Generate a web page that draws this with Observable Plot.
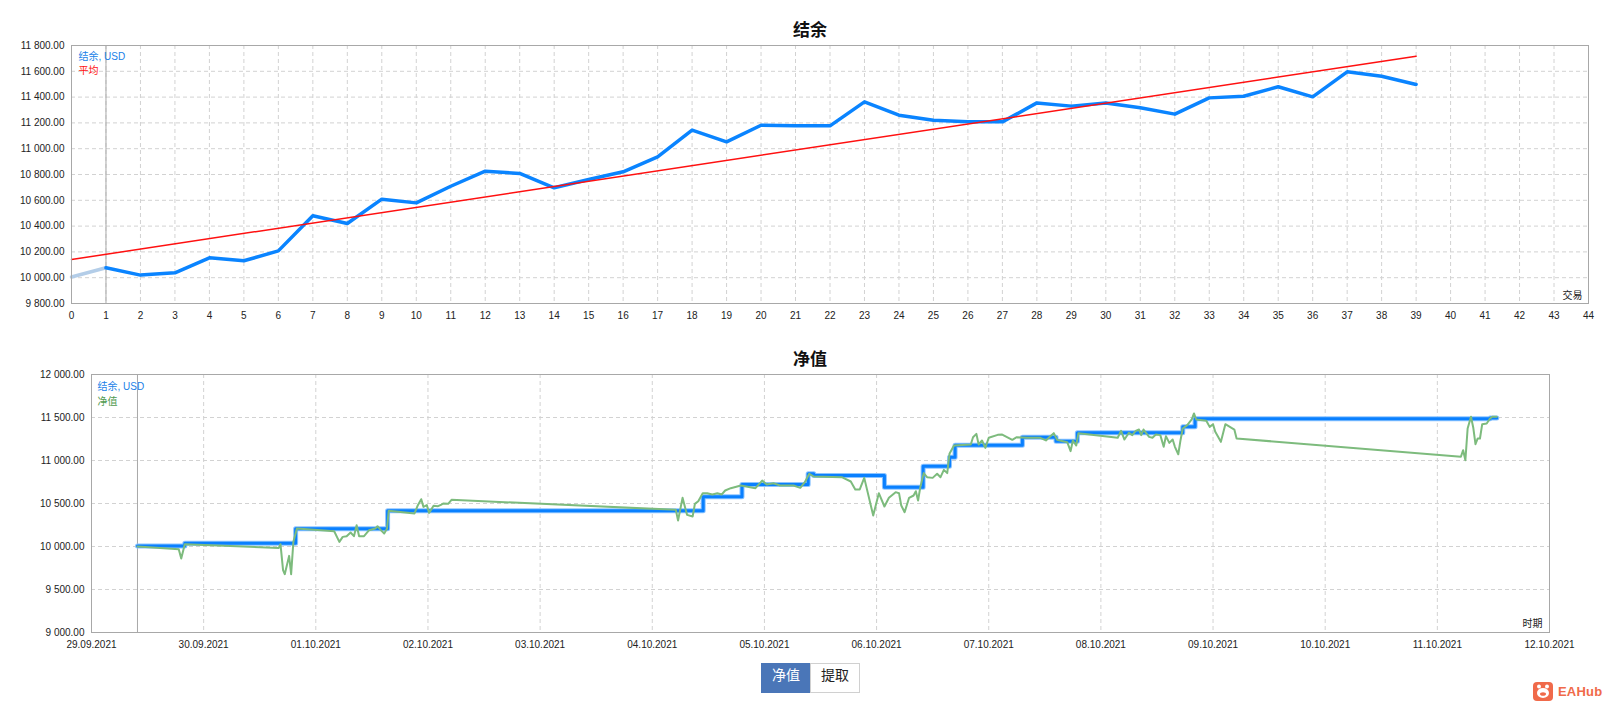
<!DOCTYPE html>
<html>
<head>
<meta charset="utf-8">
<script src="https://cdn.jsdelivr.net/npm/d3@7"></script>
<script src="https://cdn.jsdelivr.net/npm/@observablehq/plot@0.6"></script>
<style>
  body { margin: 0; background: #fff; }
  #wrap { position: relative; width: 1604px; height: 706px; overflow: hidden; background: #fff; }
  .title { position: absolute; width: 200px; text-align: center; font: bold 17px "Noto Sans CJK SC", sans-serif; color: #111; line-height: 20px; }
  #top { position: absolute; left: 0; top: 0; }
  #bot { position: absolute; left: 0; top: 330px; }
  .btn { position: absolute; top: 663px; height: 30px; line-height: 28px; text-align: center; font: 14px "Noto Sans CJK SC", sans-serif; box-sizing: border-box; }
  #logo { position: absolute; left: 1533px; top: 681px; height: 20px; display: flex; align-items: center; }
  #logo span { font: bold 13px "Liberation Sans Narrow", "Liberation Sans", sans-serif; color: #f06a4a; margin-left: 5px; letter-spacing: 0.2px; }
</style>
</head>
<body>
<div id="wrap">
  <div class="title" style="left:710px;top:19px">结余</div>
  <div id="top"></div>
  <div class="title" style="left:710px;top:348px">净值</div>
  <div id="bot"></div>
  <div class="btn" style="left:761px;width:50px;background:#4a76b8;color:#fff;border:1px solid #4a76b8;">净值</div>
  <div class="btn" style="left:810px;width:50px;background:#fff;color:#222;border:1px solid #d0d0d0;">提取</div>
  <div id="logo">
    <svg width="20" height="19" viewBox="0 0 20 19">
      <rect x="0" y="0" width="20" height="19" rx="4" fill="#f06a4a"/>
      <circle cx="6" cy="4.5" r="2" fill="#fff"/>
      <circle cx="14" cy="4.5" r="2" fill="#fff"/>
      <ellipse cx="10" cy="11" rx="6" ry="5" fill="#fff"/>
      <ellipse cx="10" cy="12" rx="3" ry="1.8" fill="#f06a4a"/>
    </svg>
    <span>EAHub</span>
  </div>
</div>
<script>
// ---------- Top chart: balance per trade ----------
const tradeNo = [0,1,2,3,4,5,6,7,8,9,10,11,12,13,14,15,16,17,18,19,20,21,22,23,24,25,26,27,28,29,30,31,32,33,34,35,36,37,38,39];
const balanceByTrade = [10005,10077,10020,10038,10154,10131,10208,10480,10420,10609,10580,10709,10826,10808,10697,10761,10821,10937,11144,11053,11182,11177,11177,11363,11260,11221,11208,11208,11355,11330,11355,11317,11268,11394,11407,11480,11402,11596,11562,11498];
const trendTrade = [0, 39];
const trendValue = [10141, 11717];
const tradeTicks = [0,1,2,3,4,5,6,7,8,9,10,11,12,13,14,15,16,17,18,19,20,21,22,23,24,25,26,27,28,29,30,31,32,33,34,35,36,37,38,39,40,41,42,43,44];
const balanceTicks = [9800,10000,10200,10400,10600,10800,11000,11200,11400,11600,11800];
const topLegend = ["结余, USD", "平均"];
const topAxisName = ["交易"];

// ---------- Bottom chart: balance & equity over time ----------
// times are days since 29.09.2021 00:00
const baseDate = "2021-09-29";
const balanceDay = [0.41,0.832,1.82,2.64,5.454,5.80,6.39,6.44,7.07,7.415,7.65,7.70,8.30,8.60,8.79,9.73,9.84,12.47,12.53];
const balanceVal = [10005,10037,10207,10417,10578,10721,10845,10826,10690,10934,11039,11178,11271,11225,11322,11391,11485,11495,11495];
const equityDay = [0.41,0.778,0.800,0.832,1.67,1.685,1.708,1.723,1.762,1.78,1.80,1.82,1.832,2.164,2.21,2.24,2.275,2.31,2.34,2.364,2.386,2.43,2.475,2.53,2.55,2.58,2.61,2.635,2.65,2.88,2.91,2.94,2.96,2.99,3.01,3.05,3.09,3.12,3.135,3.18,3.21,5.21,5.23,5.27,5.31,5.36,5.38,5.41,5.45,5.49,5.535,5.58,5.62,5.65,5.70,5.79,5.92,5.98,6.02,6.08,6.14,6.26,6.32,6.36,6.40,6.44,6.69,6.77,6.81,6.85,6.89,6.97,7.02,7.07,7.11,7.17,7.20,7.22,7.25,7.29,7.33,7.35,7.37,7.39,7.42,7.45,7.50,7.54,7.57,7.60,7.63,7.65,7.69,7.84,7.86,7.89,7.91,7.94,7.97,8.00,8.08,8.12,8.21,8.25,8.34,8.46,8.51,8.54,8.58,8.61,8.70,8.73,8.75,8.78,8.80,9.15,9.18,9.21,9.25,9.28,9.31,9.34,9.36,9.38,9.43,9.46,9.49,9.53,9.56,9.58,9.61,9.64,9.66,9.69,9.71,9.73,9.77,9.81,9.83,9.85,9.94,9.97,10.00,10.02,10.07,10.11,10.19,10.21,12.21,12.23,12.25,12.27,12.30,12.32,12.34,12.36,12.38,12.40,12.44,12.47,12.49,12.53];
const equityVal = [10000,9969,9860,10027,9984,10027,9725,9678,9891,9678,10054,10151,10209,10178,10054,10112,10120,10163,10120,10248,10120,10120,10190,10209,10236,10190,10151,10209,10415,10384,10481,10550,10461,10481,10391,10473,10469,10488,10500,10496,10543,10426,10302,10566,10368,10349,10496,10527,10620,10620,10605,10620,10605,10651,10678,10709,10678,10767,10721,10736,10709,10709,10682,10748,10845,10814,10806,10756,10663,10663,10798,10360,10620,10465,10566,10632,10620,10477,10399,10566,10593,10643,10535,10690,10853,10806,10798,10845,10806,10891,10853,11078,11174,11186,11271,11310,11186,11233,11147,11264,11298,11302,11240,11271,11264,11264,11233,11271,11318,11240,11213,11109,11233,11174,11318,11264,11345,11244,11322,11295,11345,11360,11295,11360,11275,11264,11302,11295,11159,11283,11205,11244,11159,11073,11236,11372,11411,11477,11547,11477,11461,11391,11422,11333,11217,11422,11360,11256,11043,11120,11004,11372,11508,11384,11190,11256,11256,11422,11430,11488,11508,11508];
const dateLabels = ["29.09.2021","30.09.2021","01.10.2021","02.10.2021","03.10.2021","04.10.2021","05.10.2021","06.10.2021","07.10.2021","08.10.2021","09.10.2021","10.10.2021","11.10.2021","12.10.2021"];
const equityTicks = [9000,9500,10000,10500,11000,11500,12000];
const botLegend = ["结余, USD", "净值"];
const botAxisName = ["时期"];

// ---------- helpers ----------
const fmt = d => d3.format(",.2f")(d).replace(/,/g, " ");
const parseLabel = d3.utcParse("%d.%m.%Y");
const base = d3.utcParse("%Y-%m-%d")(baseDate).getTime();
const toDate = d => new Date(base + d * 864e5);
const fontFamily = '"Liberation Sans", "Noto Sans CJK SC", sans-serif';
const gridStyle = {stroke: "#d2d2d2", strokeDasharray: "4,3", strokeWidth: 1};

const trades = tradeNo.map((t, i) => ({t, v: balanceByTrade[i]}));
const trend = trendTrade.map((t, i) => ({t, v: trendValue[i]}));

const topPlot = Plot.plot({
  width: 1604, height: 330,
  marginTop: 45, marginBottom: 27, marginLeft: 71, marginRight: 16,
  style: {fontFamily, fontSize: "10px", color: "#222", background: "transparent", overflow: "visible"},
  x: {domain: [0, 44], ticks: tradeTicks, tickSize: 0, tickPadding: 8, label: null, tickFormat: d => String(d)},
  y: {domain: [9800, 11800], ticks: balanceTicks, tickSize: 0, tickPadding: 7, tickFormat: fmt, label: null},
  marks: [
    Plot.ruleY(balanceTicks.slice(1, -1), gridStyle),
    Plot.ruleX(tradeTicks.slice(1, -1), gridStyle),
    Plot.ruleX([tradeNo[1]], {stroke: "#a8a8a8", strokeWidth: 1}),
    Plot.line(trades.slice(0, 2), {x: "t", y: "v", stroke: "#b3cde8", strokeWidth: 3.5}),
    Plot.line(trades.slice(1), {x: "t", y: "v", stroke: "#0a84ff", strokeWidth: 3.5, strokeLinejoin: "round"}),
    Plot.line(trend, {x: "t", y: "v", stroke: "#ff1010", strokeWidth: 1.5}),
    Plot.text([topLegend[0]], {frameAnchor: "top-left", text: d => d, dx: 7, dy: 11, lineAnchor: "middle", fill: "#1a7fe8", fontSize: 10}),
    Plot.text([topLegend[1]], {frameAnchor: "top-left", text: d => d, dx: 7, dy: 25, lineAnchor: "middle", fill: "#ff1010", fontSize: 10}),
    Plot.text(topAxisName, {frameAnchor: "bottom-right", text: d => d, dx: -6, dy: -8, lineAnchor: "middle", fill: "#222", fontSize: 10}),
    Plot.frame({stroke: "#a8a8a8"})
  ]
});
document.getElementById("top").appendChild(topPlot);

const balanceSeries = balanceDay.map((d, i) => ({t: toDate(d), v: balanceVal[i]}));
const equitySeries = equityDay.map((d, i) => ({t: toDate(d), v: equityVal[i]}));
const dateTicks = dateLabels.map(parseLabel);

const botPlot = Plot.plot({
  width: 1604, height: 330,
  marginTop: 44, marginBottom: 28, marginLeft: 91, marginRight: 55,
  style: {fontFamily, fontSize: "10px", color: "#222", background: "transparent", overflow: "visible"},
  x: {type: "utc", domain: [dateTicks[0], dateTicks[dateTicks.length - 1]], ticks: dateTicks, tickFormat: d3.utcFormat("%d.%m.%Y"), tickSize: 0, tickPadding: 8, label: null},
  y: {domain: [9000, 12000], ticks: equityTicks, tickSize: 0, tickPadding: 7, tickFormat: fmt, label: null},
  marks: [
    Plot.ruleY(equityTicks.slice(1, -1), gridStyle),
    Plot.ruleX(dateTicks.slice(1, -1), gridStyle),
    Plot.ruleX([toDate(equityDay[0])], {stroke: "#a8a8a8", strokeWidth: 1}),
    Plot.line(balanceSeries, {x: "t", y: "v", curve: "step-after", stroke: "#8cc4ff", strokeWidth: 5}),
    Plot.line(balanceSeries, {x: "t", y: "v", curve: "step-after", stroke: "#0a80ff", strokeWidth: 3}),
    Plot.line(equitySeries, {x: "t", y: "v", stroke: "#7dbb7d", strokeWidth: 2, strokeLinejoin: "round"}),
    Plot.text([botLegend[0]], {frameAnchor: "top-left", text: d => d, dx: 6, dy: 12, lineAnchor: "middle", fill: "#1a7fe8", fontSize: 10}),
    Plot.text([botLegend[1]], {frameAnchor: "top-left", text: d => d, dx: 6, dy: 27, lineAnchor: "middle", fill: "#4f9a4f", fontSize: 10}),
    Plot.text(botAxisName, {frameAnchor: "bottom-right", text: d => d, dx: -7, dy: -9, lineAnchor: "middle", fill: "#222", fontSize: 10}),
    Plot.frame({stroke: "#a8a8a8"})
  ]
});
document.getElementById("bot").appendChild(botPlot);
</script>
</body>
</html>
